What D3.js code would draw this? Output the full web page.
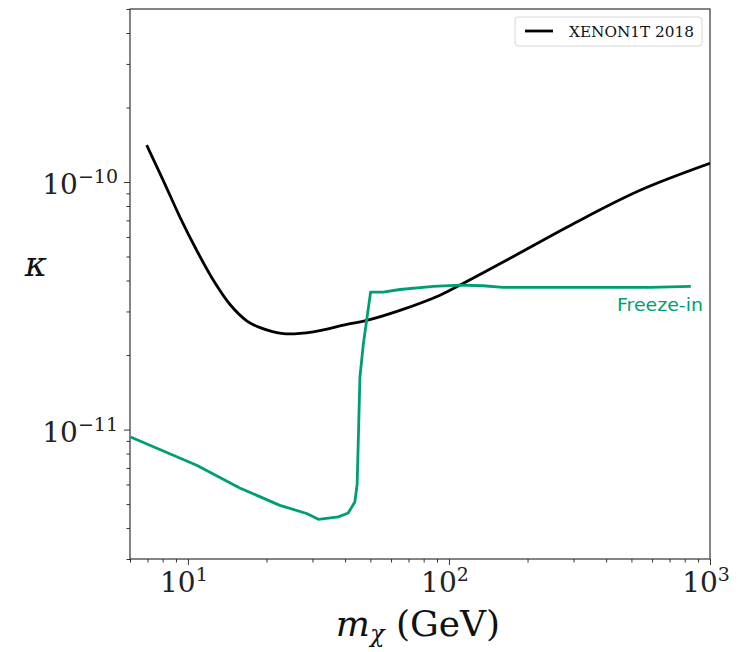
<!DOCTYPE html>
<html><head><meta charset="utf-8">
<script src="https://cdn.jsdelivr.net/npm/d3@7"></script>
<style>body{margin:0;background:#fff}svg{display:block}</style>
</head><body>
<svg id="c" width="744" height="652"></svg>
<script>
// XENON1T 2018 bound (mass GeV, kappa)
const xenonMass = [6.95, 8.04, 9.32, 10.8, 12.5, 14.5, 16.8, 18.9, 23.2, 30.2, 40.6, 48.4, 64.9, 92.4, 110, 166, 300, 540, 1000];
const xenonKappa = [1.41e-10, 1.016e-10, 7.22e-11, 5.30e-11, 4.02e-11, 3.20e-11, 2.75e-11, 2.58e-11, 2.44e-11, 2.48e-11, 2.66e-11, 2.76e-11, 3.03e-11, 3.49e-11, 3.83e-11, 4.83e-11, 6.79e-11, 9.26e-11, 1.19e-10];
// Freeze-in curve
const freezeMass = [6.03, 7.15, 10.8, 15.8, 22.5, 28.5, 31.6, 37.7, 41.1, 43.6, 44.5, 45.6, 47.0, 50.1, 56.0, 64.9, 87.1, 110, 135, 161, 244, 589, 844];
const freezeKappa = [9.33e-12, 8.64e-12, 7.18e-12, 5.81e-12, 4.94e-12, 4.58e-12, 4.34e-12, 4.44e-12, 4.60e-12, 5.10e-12, 6.01e-12, 1.63e-11, 2.22e-11, 3.59e-11, 3.59e-11, 3.68e-11, 3.79e-11, 3.83e-11, 3.81e-11, 3.75e-11, 3.75e-11, 3.75e-11, 3.79e-11];
const xMajorTicks = [10, 100, 1000];
const xMajorExp = ["1", "2", "3"];
const yMajorTicks = [1e-11, 1e-10];
const yMajorExp = ["\u221211", "\u221210"];
const legendLabel = "XENON1T 2018";
const curveLabel = "Freeze-in";

const svg = d3.select("#c");
const L = 130, R = 710, T = 9, B = 559;
const x = d3.scaleLog().domain([6, 1000]).range([L, R]);
const y = d3.scaleLog().domain([3e-12, 5e-10]).range([B, T]);

const serif = "'DejaVu Serif', 'Liberation Serif', serif";

// minor ticks
const xMinor = [];
[1, 10, 100].forEach(d => { for (let k = 2; k <= 9; k++) { const v = d * k; if (v >= 6 && v <= 1000) xMinor.push(v); } });
const yMinor = [];
[1e-12, 1e-11, 1e-10].forEach(d => { for (let k = 2; k <= 9; k++) { const v = d * k; if (v >= 3e-12 * 0.999 && v <= 5e-10 * 1.001) yMinor.push(v); } });

const gx = svg.append("g").attr("transform", `translate(0,${B})`)
  .call(d3.axisBottom(x).tickValues(xMinor).tickSize(3.5).tickFormat(""));
const gx2 = svg.append("g").attr("transform", `translate(0,${B})`)
  .call(d3.axisBottom(x).tickValues(xMajorTicks).tickSize(6).tickFormat(""));
const gy = svg.append("g").attr("transform", `translate(${L},0)`)
  .call(d3.axisLeft(y).tickValues(yMinor).tickSize(3.5).tickFormat(""));
const gy2 = svg.append("g").attr("transform", `translate(${L},0)`)
  .call(d3.axisLeft(y).tickValues(yMajorTicks).tickSize(6).tickFormat(""));
[gx, gx2, gy, gy2].forEach(g => {
  g.select(".domain").remove();
  g.selectAll("line").attr("stroke", "#333").attr("stroke-width", 1);
});

// frame
svg.append("rect").attr("x", L).attr("y", T).attr("width", R - L).attr("height", B - T)
  .attr("fill", "none").attr("stroke", "#333").attr("stroke-width", 1.2);

// x tick labels
xMajorTicks.forEach((v, i) => {
  const t = svg.append("text").attr("x", x(v) - 4).attr("y", 592)
    .attr("text-anchor", "middle").attr("font-family", serif).attr("font-size", 28).attr("fill", "#222");
  t.append("tspan").text("10");
  t.append("tspan").attr("dy", -11).attr("font-size", 19).text(xMajorExp[i]);
});
// y tick labels
yMajorTicks.forEach((v, i) => {
  const t = svg.append("text").attr("x", 118).attr("y", y(v) + 12)
    .attr("text-anchor", "end").attr("font-family", serif).attr("font-size", 28).attr("fill", "#222");
  t.append("tspan").text("10");
  t.append("tspan").attr("dy", -11).attr("font-size", 19).text(yMajorExp[i]);
});

// axis labels
const xl = svg.append("text").attr("x", (L + R) / 2 - 2).attr("y", 636).attr("text-anchor", "middle")
  .attr("font-family", serif).attr("font-size", 36).attr("fill", "#111");
xl.append("tspan").attr("font-style", "italic").text("m");
xl.append("tspan").attr("font-style", "italic").attr("font-size", 24).attr("dy", 6).text("\u03c7");
xl.append("tspan").attr("dy", -6).text(" (GeV)");

svg.append("text").attr("x", 36).attr("y", 276).attr("text-anchor", "middle")
  .attr("font-family", serif).attr("font-style", "italic").attr("font-size", 34).attr("fill", "#111").text("\u03ba");

// curves
svg.append("clipPath").attr("id", "pc").append("rect")
  .attr("x", L).attr("y", T).attr("width", R - L).attr("height", B - T);
const line = d3.line().x(d => x(d[0])).y(d => y(d[1])).curve(d3.curveCatmullRom.alpha(0.5));
svg.append("path").datum(xenonMass.map((m, i) => [m, xenonKappa[i]]))
  .attr("d", line).attr("fill", "none").attr("stroke", "#000").attr("stroke-width", 2.8)
  .attr("clip-path", "url(#pc)");
const lineLin = d3.line().x(d => x(d[0])).y(d => y(d[1]));
svg.append("path").datum(freezeMass.map((m, i) => [m, freezeKappa[i]]))
  .attr("d", lineLin).attr("fill", "none").attr("stroke", "#009E73").attr("stroke-width", 2.8)
  .attr("stroke-linejoin", "round").attr("clip-path", "url(#pc)");

svg.append("text").attr("x", 703).attr("y", 311).attr("text-anchor", "end")
  .attr("font-family", "'DejaVu Sans', sans-serif").attr("font-size", 18).attr("fill", "#009E73")
  .attr("textLength", 86).attr("lengthAdjust", "spacingAndGlyphs").text(curveLabel);

// legend
const lg = svg.append("g");
lg.append("rect").attr("x", 515).attr("y", 17).attr("width", 187).attr("height", 29).attr("rx", 3)
  .attr("fill", "#fff").attr("stroke", "#d6d6d6").attr("stroke-width", 1);
lg.append("line").attr("x1", 525).attr("x2", 553).attr("y1", 31).attr("y2", 31)
  .attr("stroke", "#000").attr("stroke-width", 2.8);
lg.append("text").attr("x", 569).attr("y", 37).attr("font-family", serif).attr("font-size", 14)
  .attr("fill", "#111").attr("textLength", 125).attr("lengthAdjust", "spacingAndGlyphs").text(legendLabel);
</script>
</body></html>
